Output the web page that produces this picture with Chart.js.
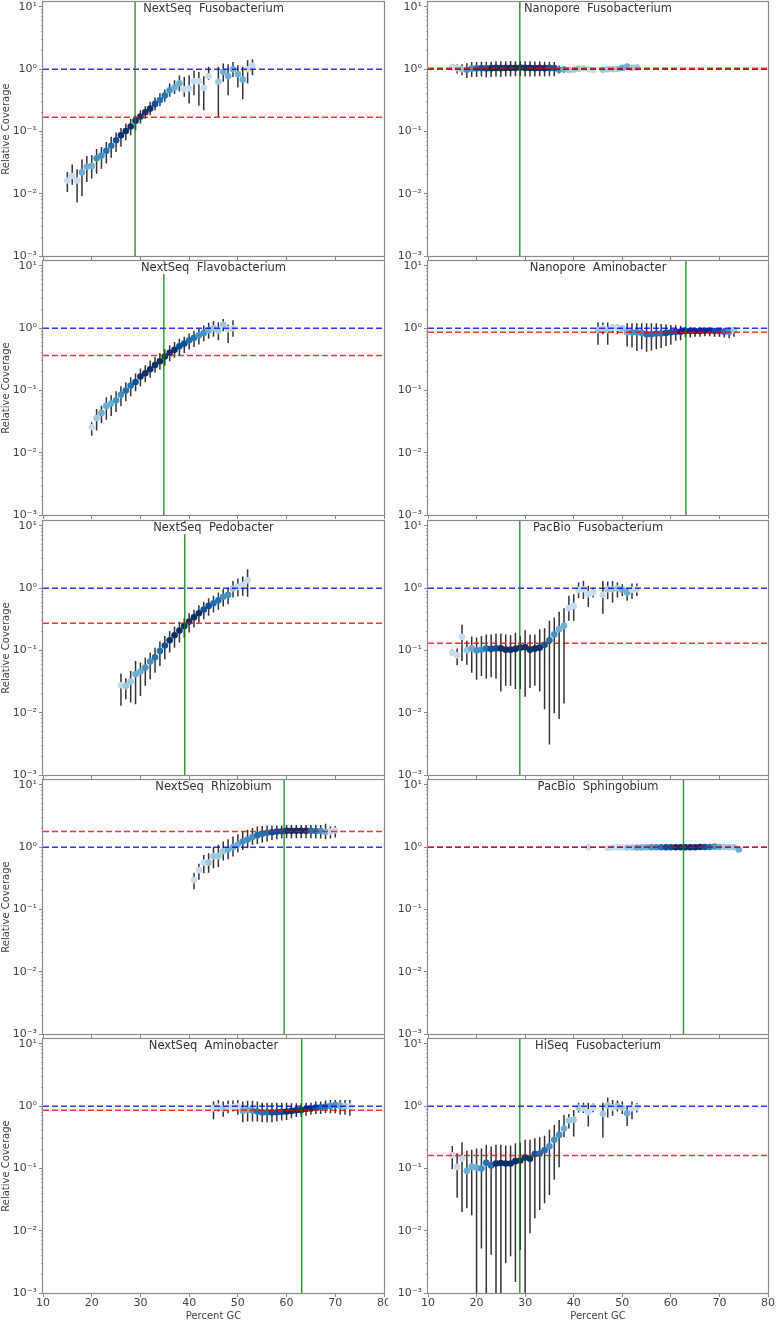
<!DOCTYPE html>
<html>
<head>
<meta charset="utf-8">
<script src="https://cdn.jsdelivr.net/npm/chart.js@4.4.1/dist/chart.umd.min.js"></script>
<style>
  html, body { margin: 0; padding: 0; background: #fff; overflow: hidden; }
  body { width: 776px; height: 1322px; position: relative; font-family: 'DejaVu Sans', sans-serif; }
  .panel { position: absolute; }
  .ttl { position: absolute; display: flex; justify-content: center; pointer-events: none; }
  .ttl span { display: block; height: 12px; line-height: 11px; padding: 0 3px;
              background: #fff; color: #333; font-size: 11.5px; white-space: pre; }
</style>
</head>
<body>
<script>
// axis ticks
const xTicks = [10, 20, 30, 40, 50, 60, 70, 80]
const yTicks = [0.001, 0.01, 0.1, 1, 10]
const yTickLabels = ['10⁻³', '10⁻²', '10⁻¹', '10⁰', '10¹']
const yMinorTicks = []
yTicks.slice(0, 4).forEach(d => { for (let k = 2; k <= 9; k++) yMinorTicks.push(d * k) })

// panel titles, genome GC (green line), median coverage (red line)
const titles = ['NextSeq  Fusobacterium', 'Nanopore  Fusobacterium', 'NextSeq  Flavobacterium', 'Nanopore  Aminobacter',
  'NextSeq  Pedobacter', 'PacBio  Fusobacterium', 'NextSeq  Rhizobium', 'PacBio  Sphingobium',
  'NextSeq  Aminobacter', 'HiSeq  Fusobacterium']
const genomeGC = [28.9, 28.9, 34.8, 63.1, 39.1, 28.9, 59.5, 62.6, 63.1, 28.9]
const medianCov = [0.169, 1.04, 0.364, 0.86, 0.274, 0.13, 1.78, 1.0, 0.86, 0.161]
const refCov = 1

// NextSeq Fusobacterium
const nsFusoGC = [15,16,17,18,19,20,21,22,23,24,25,26,27,28,29,30,31,32,33,34,35,36,37,38,39,40,41,42,43,44,46,47,48,49,50,51,52,53]
const nsFusoCov = [0.0163,0.0193,0.0163,0.022,0.027,0.028,0.037,0.041,0.049,0.059,0.072,0.087,0.102,0.12,0.148,0.174,0.204,0.233,0.277,0.321,0.378,0.46,0.507,0.596,0.477,0.49,0.641,0.641,0.5,0.772,0.63,0.906,0.77,1.0,0.83,0.68,1.0,1.13]
const nsFusoLo = [0.0107,0.014,0.0072,0.0091,0.0155,0.0175,0.021,0.0253,0.0305,0.038,0.047,0.0567,0.072,0.087,0.105,0.134,0.16,0.182,0.22,0.254,0.3,0.36,0.4,0.44,0.36,0.28,0.38,0.26,0.22,0.67,0.17,0.63,0.38,0.75,0.51,0.33,0.59,0.8]
const nsFusoHi = [0.0224,0.0294,0.0247,0.0354,0.0405,0.042,0.0525,0.0565,0.068,0.082,0.096,0.114,0.134,0.16,0.18,0.22,0.254,0.3,0.35,0.41,0.47,0.59,0.665,0.79,0.75,0.8,0.94,0.9,0.77,1.09,1.09,1.23,1.2,1.31,1.16,1.09,1.39,1.45]
const nsFusoShade = [0,0,0,2,2,2,3,3,4,4,5,6,6,6,6,6,6,6,5,4,4,3,2,2,0,0,0,0,0,0,1,2,2,2,2,2,0,0]

// Nanopore Fusobacterium
const npFusoGC = [15,16,17,18,19,20,21,22,23,24,25,26,27,28,29,30,31,32,33,34,35,36,37,38,39,40,41,42,43,44,46,47,48,49,50,51,52,53]
const npFusoCov = [1.08,1.05,1.0,0.98,1.02,1.03,1.04,1.03,1.04,1.05,1.04,1.05,1.05,1.05,1.06,1.05,1.05,1.04,1.05,1.04,1.05,1.04,0.98,1.0,0.97,0.98,1.02,1.03,1.0,0.96,0.98,1.0,1.0,1.01,1.05,1.1,1.05,1.07]
const npFusoLo = [0.95,0.85,0.8,0.72,0.75,0.75,0.76,0.74,0.75,0.76,0.75,0.76,0.76,0.77,0.77,0.76,0.76,0.76,0.77,0.76,0.77,0.77,0.85,0.88,0.88,0.9,0.97,0.98,0.96,0.92,0.94,0.96,0.96,0.97,1.0,1.05,1.0,1.02]
const npFusoHi = [1.2,1.2,1.2,1.25,1.3,1.3,1.32,1.32,1.32,1.34,1.33,1.34,1.35,1.34,1.35,1.34,1.34,1.33,1.33,1.32,1.32,1.3,1.15,1.12,1.08,1.06,1.07,1.08,1.05,1.0,1.02,1.04,1.04,1.05,1.1,1.15,1.1,1.12]
const npFusoShade = [0,0,1,3,3,4,5,5,6,6,6,6,6,6,6,6,6,6,6,6,5,5,3,2,1,1,1,0,0,0,1,1,1,1,2,2,1,1]

// NextSeq Flavobacterium
const nsFlavoGC = [20,21,22,23,24,25,26,27,28,29,30,31,32,33,34,35,36,37,38,39,40,41,42,43,44,45,46,47,48,49]
const nsFlavoCov = [0.0257,0.036,0.0436,0.0565,0.0616,0.0697,0.085,0.1,0.12,0.137,0.167,0.189,0.219,0.257,0.295,0.351,0.402,0.449,0.514,0.567,0.641,0.7,0.772,0.841,0.929,1.0,0.906,1.13,0.963,1.0]
const nsFlavoLo = [0.0188,0.0227,0.03,0.034,0.039,0.045,0.056,0.067,0.081,0.097,0.117,0.136,0.16,0.192,0.217,0.25,0.295,0.334,0.364,0.4,0.455,0.5,0.546,0.62,0.674,0.726,0.64,0.895,0.58,0.726]
const nsFlavoHi = [0.031,0.0506,0.057,0.078,0.084,0.097,0.117,0.136,0.163,0.187,0.225,0.254,0.302,0.346,0.4,0.465,0.533,0.603,0.674,0.726,0.82,0.9,0.975,1.1,1.22,1.3,1.25,1.41,1.14,1.34]
const nsFlavoShade = [0,1,2,2,2,3,3,4,4,5,6,6,6,6,6,6,6,6,5,5,4,4,3,3,2,1,1,1,0,0]

// Nanopore Aminobacter
const npAminoGC = [45,46,47,48,49,50,51,52,53,54,55,56,57,58,59,60,61,62,63,64,65,66,67,68,69,70,71,72,73]
const npAminoCov = [0.93,1.0,0.93,1.02,1.02,1.0,0.86,0.86,0.86,0.84,0.8,0.8,0.82,0.82,0.84,0.86,0.88,0.88,0.9,0.9,0.9,0.9,0.91,0.91,0.9,0.9,0.88,0.88,0.93]
const npAminoLo = [0.54,0.8,0.54,0.85,0.8,0.9,0.51,0.49,0.43,0.46,0.42,0.44,0.46,0.48,0.52,0.54,0.63,0.64,0.71,0.71,0.73,0.73,0.74,0.74,0.73,0.73,0.71,0.69,0.73]
const npAminoHi = [1.23,1.23,1.23,1.16,1.16,1.09,1.2,1.2,1.2,1.2,1.2,1.2,1.2,1.17,1.16,1.13,1.12,1.09,1.05,1.03,1.03,1.03,1.03,1.0,1.0,1.0,1.0,1.03,1.05]
const npAminoShade = [1,0,1,0,0,1,2,3,3,3,4,4,4,4,5,5,5,6,6,6,6,6,6,6,5,5,4,3,1]

// NextSeq Pedobacter
const nsPedoGC = [26,27,28,29,30,31,32,33,34,35,36,37,38,39,40,41,42,43,44,45,46,47,48,49,50,51,52]
const nsPedoCov = [0.0276,0.0267,0.0316,0.0415,0.0458,0.0531,0.0663,0.078,0.098,0.12,0.146,0.176,0.209,0.248,0.291,0.342,0.396,0.454,0.52,0.574,0.641,0.726,0.78,0.99,1.05,1.13,1.34]
const nsPedoLo = [0.0129,0.0165,0.0146,0.0137,0.0186,0.027,0.0345,0.044,0.0565,0.072,0.093,0.111,0.134,0.16,0.194,0.233,0.281,0.318,0.36,0.406,0.45,0.508,0.553,0.708,0.735,0.753,0.726]
const nsPedoHi = [0.0425,0.0358,0.047,0.068,0.064,0.077,0.0925,0.111,0.139,0.171,0.206,0.242,0.288,0.326,0.397,0.45,0.533,0.603,0.69,0.753,0.85,0.963,1.025,1.31,1.43,1.54,2.02]
const nsPedoShade = [0,1,1,2,2,3,3,4,4,5,6,6,6,6,6,6,6,5,5,4,4,3,3,1,0,0,0]

// PacBio Fusobacterium
const pbFusoGC = [15,16,17,18,19,20,21,22,23,24,25,26,27,28,29,30,31,32,33,34,35,36,37,38,39,40,41,42,43,44,46,47,48,49,50,51,52,53]
const pbFusoCov = [0.092,0.084,0.166,0.101,0.108,0.1,0.103,0.108,0.106,0.108,0.108,0.103,0.103,0.106,0.111,0.113,0.103,0.107,0.111,0.123,0.146,0.181,0.22,0.249,0.478,0.52,0.94,0.96,0.8,0.85,0.78,0.96,0.96,1.0,0.94,0.85,0.94,0.96]
const pbFusoLo = [0.082,0.058,0.068,0.059,0.044,0.034,0.039,0.035,0.037,0.035,0.022,0.027,0.027,0.024,0.024,0.018,0.025,0.027,0.022,0.0114,0.0031,0.0098,0.0079,0.0141,0.3,0.3,0.69,0.67,0.5,0.71,0.39,0.67,0.59,0.71,0.75,0.63,0.67,0.75]
const pbFusoHi = [0.105,0.108,0.258,0.143,0.168,0.162,0.171,0.18,0.18,0.187,0.187,0.18,0.176,0.192,0.171,0.212,0.18,0.18,0.22,0.228,0.3,0.338,0.42,0.478,0.753,0.8,1.23,1.31,1.09,1.02,1.31,1.28,1.31,1.23,1.16,1.02,1.19,1.19]
const pbFusoShade = [0,0,0,1,2,3,3,4,5,5,6,6,6,6,6,6,6,6,6,5,4,3,2,2,0,0,0,0,0,0,0,1,1,1,2,2,0,0]

// NextSeq Rhizobium
const nsRhizoGC = [41,42,43,44,45,46,47,48,49,50,51,52,53,54,55,56,57,58,59,60,61,62,63,64,65,66,67,68,69,70]
const nsRhizoCov = [0.296,0.428,0.567,0.567,0.718,0.718,0.863,0.918,1.0,1.1,1.23,1.33,1.46,1.56,1.64,1.7,1.74,1.78,1.8,1.83,1.83,1.83,1.83,1.83,1.83,1.82,1.82,1.76,1.78,1.85]
const nsRhizoLo = [0.212,0.3,0.38,0.39,0.46,0.48,0.61,0.64,0.71,0.82,0.9,0.96,1.09,1.13,1.19,1.23,1.31,1.34,1.38,1.39,1.39,1.39,1.39,1.39,1.39,1.38,1.38,1.34,1.38,1.43]
const nsRhizoHi = [0.39,0.54,0.75,0.8,1.02,1.09,1.23,1.34,1.48,1.62,1.78,1.9,2.04,2.15,2.2,2.23,2.23,2.23,2.23,2.28,2.28,2.28,2.28,2.28,2.28,2.28,2.28,2.37,2.15,2.2]
const nsRhizoShade = [0,0,0,1,1,1,1,2,2,2,3,3,3,4,4,4,5,5,5,6,6,6,6,6,4,4,3,2,0,0]

// PacBio Sphingobium
const pbSphingoGC = [43,47,48,49,50,51,52,53,54,55,56,57,58,59,60,61,62,63,64,65,66,67,68,69,70,71,72,73,74]
const pbSphingoCov = [1.0,0.97,0.99,1.0,0.99,0.99,0.99,0.99,0.99,1.0,1.0,1.0,1.0,1.0,1.0,1.0,1.0,1.0,1.0,1.0,1.01,1.01,1.01,1.02,1.01,1.01,1.0,1.0,0.92]
const pbSphingoLo = [0.97,0.94,0.96,0.96,0.95,0.95,0.95,0.95,0.95,0.95,0.95,0.95,0.94,0.94,0.94,0.94,0.94,0.94,0.94,0.94,0.95,0.95,0.96,0.97,0.97,0.97,0.96,0.96,0.87]
const pbSphingoHi = [1.03,1.0,1.02,1.04,1.03,1.03,1.03,1.03,1.03,1.05,1.05,1.05,1.06,1.06,1.06,1.06,1.06,1.06,1.06,1.06,1.07,1.07,1.06,1.07,1.05,1.05,1.04,1.04,0.97]
const pbSphingoShade = [0,0,0,0,0,1,1,2,2,2,3,3,4,5,5,6,6,6,6,6,6,5,4,3,2,1,1,1,2]

// NextSeq Aminobacter
const nsAminoGC = [45,46,47,48,49,50,51,52,53,54,55,56,57,58,59,60,61,62,63,64,65,66,67,68,69,70,71,72,73]
const nsAminoCov = [0.93,0.99,0.92,0.96,0.96,1.0,0.84,0.87,0.85,0.82,0.79,0.8,0.79,0.8,0.81,0.82,0.84,0.86,0.87,0.9,0.92,0.95,0.96,0.99,1.01,1.04,1.02,1.0,0.99]
const nsAminoLo = [0.62,0.82,0.68,0.77,0.82,0.73,0.55,0.57,0.57,0.57,0.55,0.55,0.55,0.57,0.59,0.6,0.64,0.67,0.68,0.7,0.73,0.75,0.75,0.77,0.77,0.77,0.73,0.73,0.7]
const nsAminoHi = [1.19,1.26,1.19,1.23,1.23,1.26,1.19,1.22,1.22,1.19,1.14,1.14,1.14,1.14,1.14,1.14,1.12,1.12,1.12,1.14,1.14,1.19,1.19,1.23,1.26,1.26,1.26,1.26,1.26]
const nsAminoShade = [0,0,1,0,0,0,2,2,3,4,4,4,5,5,5,6,6,6,6,6,6,5,4,4,3,3,2,1,0]

// HiSeq Fusobacterium (lower bounds below 1e-3 run off the axis)
const hsFusoGC = [15,16,17,18,19,20,21,22,23,24,25,26,27,28,29,30,31,32,33,34,35,36,37,38,39,40,41,42,43,44,46,47,48,49,50,51,52,53]
const hsFusoCov = [0.163,0.106,0.144,0.0914,0.107,0.103,0.1,0.123,0.112,0.12,0.122,0.12,0.12,0.131,0.134,0.15,0.143,0.171,0.174,0.196,0.228,0.288,0.346,0.438,0.589,0.61,0.94,0.93,0.8,0.95,0.753,1.03,0.95,1.0,0.95,0.77,0.93,0.96]
const hsFusoLo = [0.097,0.034,0.02,0.023,0.0177,0.0005,0.0052,0.0005,0.0041,0.0005,0.0005,0.003,0.0039,0.0015,0.0049,0.0005,0.0091,0.0158,0.0215,0.0276,0.0375,0.066,0.105,0.318,0.44,0.326,0.79,0.78,0.47,0.8,0.314,0.66,0.7,0.82,0.75,0.48,0.62,0.79]
const hsFusoHi = [0.23,0.176,0.264,0.194,0.2,0.21,0.21,0.24,0.225,0.24,0.24,0.234,0.234,0.254,0.26,0.29,0.29,0.306,0.318,0.334,0.417,0.5,0.6,0.725,0.75,0.87,1.14,1.14,1.14,1.1,1.14,1.38,1.26,1.23,1.19,0.99,1.19,1.12]
const hsFusoShade = [0,0,0,2,2,2,3,4,4,6,6,6,6,6,6,6,6,5,4,4,3,3,3,2,1,1,1,0,0,0,1,1,0,1,1,2,0,0]

// colormap (Blues) for the point density
const blues = ['#c6dbef', '#9ecae1', '#6baed6', '#4292c6', '#2171b5', '#08519c', '#08306b']

const panels = [
  { gc: nsFusoGC, cov: nsFusoCov, lo: nsFusoLo, hi: nsFusoHi, shade: nsFusoShade },
  { gc: npFusoGC, cov: npFusoCov, lo: npFusoLo, hi: npFusoHi, shade: npFusoShade },
  { gc: nsFlavoGC, cov: nsFlavoCov, lo: nsFlavoLo, hi: nsFlavoHi, shade: nsFlavoShade },
  { gc: npAminoGC, cov: npAminoCov, lo: npAminoLo, hi: npAminoHi, shade: npAminoShade },
  { gc: nsPedoGC, cov: nsPedoCov, lo: nsPedoLo, hi: nsPedoHi, shade: nsPedoShade },
  { gc: pbFusoGC, cov: pbFusoCov, lo: pbFusoLo, hi: pbFusoHi, shade: pbFusoShade },
  { gc: nsRhizoGC, cov: nsRhizoCov, lo: nsRhizoLo, hi: nsRhizoHi, shade: nsRhizoShade },
  { gc: pbSphingoGC, cov: pbSphingoCov, lo: pbSphingoLo, hi: pbSphingoHi, shade: pbSphingoShade },
  { gc: nsAminoGC, cov: nsAminoCov, lo: nsAminoLo, hi: nsAminoHi, shade: nsAminoShade },
  { gc: hsFusoGC, cov: hsFusoCov, lo: hsFusoLo, hi: hsFusoHi, shade: hsFusoShade }
]

Chart.defaults.font.family = "'DejaVu Sans', sans-serif"
const frameColor = '#8a8a8a'
const labelColor = '#444'

// draws the box around the plot area (all four sides)
const framePlugin = {
  id: 'frame',
  afterDatasetsDraw(chart) {
    const a = chart.chartArea, ctx = chart.ctx
    ctx.save()
    ctx.strokeStyle = frameColor
    ctx.lineWidth = 1.2
    ctx.strokeRect(a.left - 0.5, a.top - 0.5, a.right - a.left + 1, a.bottom - a.top + 1)
    ctx.restore()
  }
}

// page layout of the 5x2 grid
const rowTops = [2, 261, 521, 780, 1039]
const plotH = 254
const colInfo = [
  { canvasLeft: 0, width: 388, yAxisW: 43, padRight: 4 },
  { canvasLeft: 388, width: 388, yAxisW: 40, padRight: 8 }
]

panels.forEach(function (p, idx) {
  const col = idx % 2, row = Math.floor(idx / 2)
  const isBottom = row === 4
  const ci = colInfo[col]
  const xAxisH = isBottom ? 29 : 6
  const top = rowTops[row] - 8
  const h = 8 + plotH + xAxisH

  const div = document.createElement('div')
  div.className = 'panel'
  div.style.left = ci.canvasLeft + 'px'
  div.style.top = top + 'px'
  div.style.width = ci.width + 'px'
  div.style.height = h + 'px'
  const canvas = document.createElement('canvas')
  canvas.width = ci.width
  canvas.height = h
  div.appendChild(canvas)
  document.body.appendChild(div)

  // error bars as one broken line: lo -> hi, then a gap
  const errData = []
  p.gc.forEach(function (g, i) {
    errData.push({ x: g, y: p.lo[i] }, { x: g, y: p.hi[i] }, { x: g, y: null })
  })
  const pts = p.gc.map((g, i) => ({ x: g, y: p.cov[i] }))

  new Chart(canvas, {
    type: 'scatter',
    data: {
      datasets: [
        { type: 'line', data: [{ x: genomeGC[idx], y: 0.0005 }, { x: genomeGC[idx], y: 20 }],
          borderColor: 'rgba(0,128,0,0.8)', borderWidth: 1.5, pointRadius: 0, order: 0 },
        { type: 'line', data: [{ x: 10, y: medianCov[idx] }, { x: 80, y: medianCov[idx] }],
          borderColor: 'rgba(255,0,0,0.8)', borderWidth: 1.5, borderDash: [6, 3], pointRadius: 0, order: 1 },
        { type: 'line', data: [{ x: 10, y: refCov }, { x: 80, y: refCov }],
          borderColor: 'rgba(0,0,255,0.8)', borderWidth: 1.5, borderDash: [6, 3], pointRadius: 0, order: 2 },
        { type: 'scatter', data: pts, pointRadius: 3.3, pointBorderWidth: 0,
          pointBackgroundColor: p.shade.map(s => blues[s]), order: 3 },
        { type: 'line', data: errData, borderColor: 'rgba(0,0,0,0.8)', borderWidth: 1.5,
          pointRadius: 0, spanGaps: false, order: 4 }
      ]
    },
    options: {
      responsive: false,
      animation: false,
      devicePixelRatio: 1,
      events: [],
      layout: { padding: { top: 8, right: ci.padRight, left: 0, bottom: 0 } },
      plugins: { legend: { display: false }, tooltip: { enabled: false } },
      scales: {
        x: {
          type: 'linear', min: 10, max: 80, position: 'bottom',
          afterBuildTicks: s => { s.ticks = xTicks.map(v => ({ value: v })) },
          afterFit: s => { s.height = xAxisH; s.paddingLeft = 0; s.paddingRight = 0 },
          grid: { drawOnChartArea: false, drawTicks: true, tickLength: 4, tickColor: frameColor, tickWidth: 1 },
          border: { display: false },
          ticks: { display: isBottom, color: labelColor, font: { size: 11 }, padding: 0, maxRotation: 0, autoSkip: false },
          title: { display: isBottom, text: 'Percent GC', color: labelColor, font: { size: 10 }, padding: { top: 0, bottom: 0 } }
        },
        y: {
          type: 'logarithmic', min: 0.001, max: 12, position: 'left', weight: 1,
          afterBuildTicks: s => { s.ticks = yTicks.map(v => ({ value: v, major: true })) },
          afterFit: s => { s.width = ci.yAxisW; s.paddingTop = 0; s.paddingBottom = 0 },
          grid: { drawOnChartArea: false, drawTicks: true, tickLength: 4, tickColor: frameColor, tickWidth: 1 },
          border: { display: false },
          ticks: { callback: (v, i) => yTickLabels[i], color: labelColor, font: { size: 11 }, padding: 2, autoSkip: false },
          title: { display: col === 0, text: 'Relative Coverage', color: labelColor, font: { size: 10 }, padding: { top: 0, bottom: 0 } }
        },
        yMinor: {
          type: 'logarithmic', min: 0.001, max: 12, position: 'left', weight: 0,
          afterBuildTicks: s => { s.ticks = yMinorTicks.map(v => ({ value: v })) },
          afterFit: s => { s.width = 0; s.paddingTop = 0; s.paddingBottom = 0 },
          grid: { drawOnChartArea: false, drawTicks: true, tickLength: 2, tickColor: frameColor, tickWidth: 0.8 },
          border: { display: false },
          ticks: { display: false }
        }
      }
    },
    plugins: [framePlugin]
  })

  // title sits inside the top of the plot on a white box
  const t = document.createElement('div')
  t.className = 'ttl'
  t.style.left = (ci.canvasLeft + ci.yAxisW) + 'px'
  t.style.width = (ci.width - ci.yAxisW - ci.padRight) + 'px'
  t.style.top = (rowTops[row] + 1) + 'px'
  const sp = document.createElement('span')
  sp.textContent = titles[idx]
  t.appendChild(sp)
  document.body.appendChild(t)
})
</script>
</body>
</html>
